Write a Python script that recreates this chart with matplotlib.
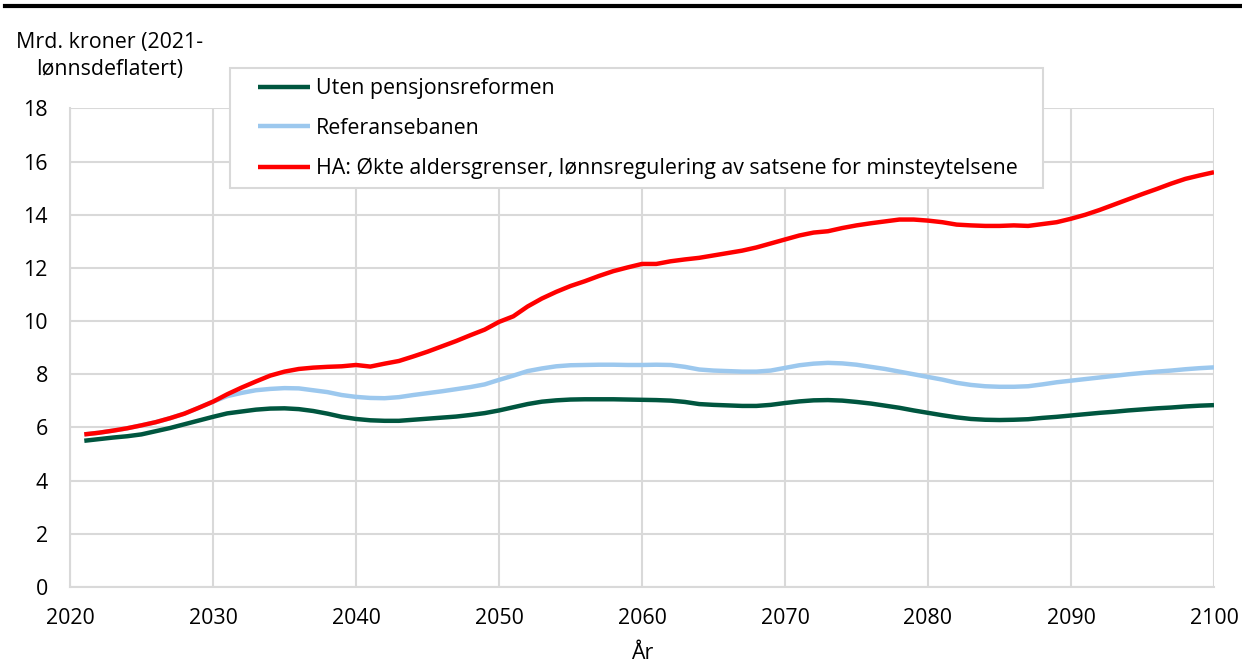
import matplotlib
matplotlib.use("Agg")
import matplotlib.pyplot as plt
from matplotlib.lines import Line2D
from matplotlib.patches import Rectangle

plt.rcParams['font.family'] = ['Open Sans', 'DejaVu Sans']

years = list(range(2021, 2101))

uten_reform = [
    5.50, 5.56, 5.62, 5.67, 5.74, 5.86, 5.98, 6.12, 6.26, 6.40,
    6.53, 6.60, 6.67, 6.71, 6.72, 6.69, 6.62, 6.52, 6.40, 6.32,
    6.27, 6.25, 6.25, 6.29, 6.33, 6.37, 6.41, 6.47, 6.54, 6.64,
    6.76, 6.88, 6.97, 7.02, 7.05, 7.06, 7.06, 7.06, 7.05, 7.04,
    7.03, 7.01, 6.96, 6.88, 6.85, 6.83, 6.81, 6.81, 6.85, 6.92,
    6.98, 7.02, 7.03, 7.01, 6.96, 6.90, 6.82, 6.74, 6.64, 6.55,
    6.46, 6.38, 6.32, 6.29, 6.28, 6.29, 6.31, 6.36, 6.40, 6.45,
    6.50, 6.55, 6.59, 6.64, 6.68, 6.72, 6.75, 6.79, 6.82, 6.84,
]

referansebanen = [
    5.74, 5.80, 5.88, 5.97, 6.08, 6.20, 6.35, 6.52, 6.74, 6.97,
    7.18, 7.30, 7.40, 7.45, 7.48, 7.47, 7.40, 7.33, 7.22, 7.15,
    7.11, 7.10, 7.14, 7.22, 7.29, 7.36, 7.44, 7.52, 7.62, 7.79,
    7.95, 8.12, 8.22, 8.30, 8.34, 8.35, 8.36, 8.36, 8.35, 8.35,
    8.36, 8.35, 8.28, 8.18, 8.14, 8.12, 8.10, 8.10, 8.14, 8.24,
    8.34, 8.40, 8.43, 8.41, 8.36, 8.28, 8.20, 8.10, 8.00, 7.90,
    7.80, 7.68, 7.60, 7.55, 7.53, 7.53, 7.55, 7.62, 7.70, 7.76,
    7.82, 7.88, 7.94, 8.00, 8.05, 8.10, 8.14, 8.19, 8.23, 8.26,
]

ha_alternativ = [
    5.74, 5.80, 5.88, 5.97, 6.08, 6.20, 6.35, 6.52, 6.74, 6.97,
    7.25, 7.50, 7.73, 7.95, 8.10, 8.20, 8.25, 8.28, 8.30, 8.35,
    8.29, 8.40, 8.50, 8.67, 8.85, 9.05, 9.25, 9.47, 9.68, 9.97,
    10.18, 10.55, 10.85, 11.10, 11.32, 11.50, 11.70, 11.88, 12.02, 12.15,
    12.15, 12.25, 12.32, 12.38, 12.47, 12.56, 12.65, 12.77, 12.92, 13.07,
    13.22, 13.33, 13.38, 13.50, 13.60, 13.68, 13.75, 13.82, 13.82, 13.78,
    13.72, 13.63, 13.60, 13.58, 13.58, 13.60, 13.58, 13.65, 13.72, 13.85,
    14.00, 14.18, 14.38, 14.58, 14.78, 14.97, 15.17, 15.35, 15.48, 15.60,
]

series_labels = [
    "Uten pensjonsreformen",
    "Referansebanen",
    "HA: Økte aldersgrenser, lønnsregulering av satsene for minsteytelsene",
]
series_colors = ["#00563F", "#9CC8EE", "#FF0000"]

x_ticks = [2020, 2030, 2040, 2050, 2060, 2070, 2080, 2090, 2100]
y_ticks = [0, 2, 4, 6, 8, 10, 12, 14, 16, 18]

grid_color = "#D9D9D9"
fs = 15.4
W, H = 1242, 662

fig = plt.figure(figsize=(W / 100, H / 100), dpi=100)
ax = fig.add_axes([70 / W, 75 / H, 1144 / W, 478.6 / H])

for values, label, color in zip([uten_reform, referansebanen, ha_alternativ],
                                series_labels, series_colors):
    ax.plot(years, values, color=color, lw=3.2, label=label,
            solid_capstyle="butt", zorder=3)

ax.set_xlim(2020, 2100)
ax.set_ylim(0, 18)
ax.set_xticks(x_ticks)
ax.set_yticks(y_ticks)
ax.grid(True, color=grid_color, lw=1.5, zorder=0)
ax.set_axisbelow(True)
for side in ["top", "right"]:
    ax.spines[side].set_visible(False)
for side in ["left", "bottom"]:
    ax.spines[side].set_color(grid_color)
    ax.spines[side].set_linewidth(1.5)
ax.tick_params(axis="both", length=0, labelsize=fs, colors="black")
ax.tick_params(axis="y", pad=16)
ax.tick_params(axis="x", pad=15)

ax.set_xlabel("År", fontsize=fs, labelpad=10)

fig.text(110 / W, 1 - 56 / H, "Mrd. kroner (2021-\nlønnsdeflatert)",
         ha="center", va="center", fontsize=fs, multialignment="center",
         linespacing=1.32)

# legend frame drawn as a separate box, entries placed inside it
frame = Rectangle((230 / W, 1 - 188 / H), (1043 - 230) / W, 120 / H,
                  transform=fig.transFigure, facecolor="white",
                  edgecolor=grid_color, lw=1.5, zorder=4)
fig.add_artist(frame)

leg = ax.legend(loc="upper left", bbox_to_anchor=(258 / W, 1 - 78 / H),
                bbox_transform=fig.transFigure, fontsize=fs, frameon=False,
                handlelength=2.42, handletextpad=0.28, labelspacing=0.88,
                borderpad=0, borderaxespad=0)
leg.set_zorder(5)
fig.add_artist(leg)

fig.add_artist(Line2D([5 / W, 1], [1 - 5.5 / H, 1 - 5.5 / H],
                      transform=fig.transFigure, color="black", lw=3))

fig.savefig("out.png", dpi=100, facecolor="white")
